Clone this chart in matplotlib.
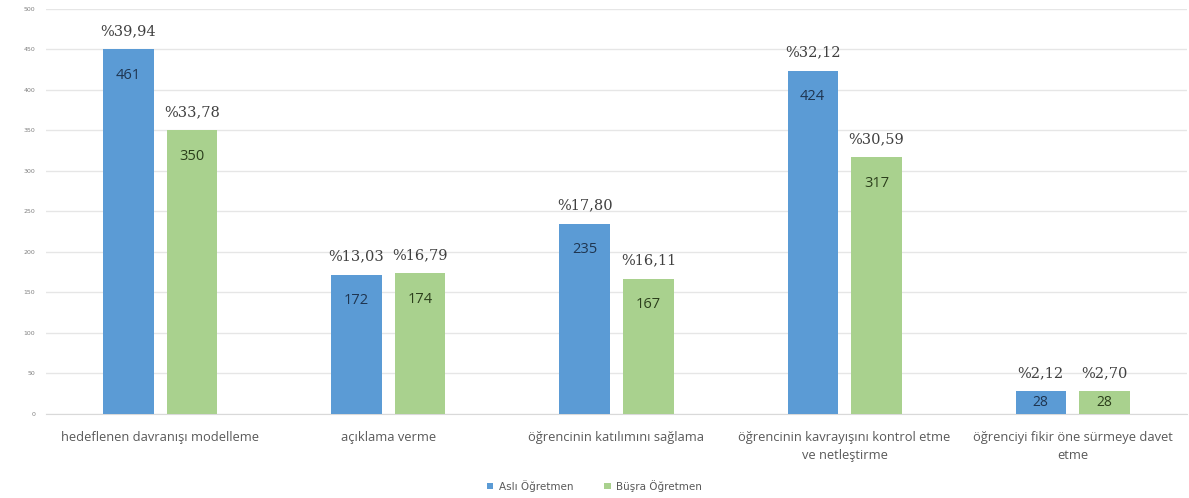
import matplotlib
matplotlib.use("Agg")
import matplotlib.pyplot as plt
import numpy as np

categories = ["hedeflenen davranışı modelleme", "açıklama verme",
              "öğrencinin katılımını sağlama",
              "öğrencinin kavrayışını kontrol etme\nve netleştirme",
              "öğrenciyi fikir öne sürmeye davet\netme"]
asli_values = [450, 172, 235, 424, 28]
busra_values = [350, 174, 167, 317, 28]
asli_counts = ["461", "172", "235", "424", "28"]
busra_counts = ["350", "174", "167", "317", "28"]
asli_pct = ["%39,94", "%13,03", "%17,80", "%32,12", "%2,12"]
busra_pct = ["%33,78", "%16,79", "%16,11", "%30,59", "%2,70"]
series_names = ["Aslı Öğretmen", "Büşra Öğretmen"]
yticks = [0, 50, 100, 150, 200, 250, 300, 350, 400, 450, 500]

blue = "#5B9BD5"
green = "#A9D18E"

fig = plt.figure(figsize=(11.89, 4.98), dpi=100)
ax = fig.add_axes([0.039, 0.169, 0.959, 0.813])

x = np.arange(len(categories))
w = 0.22
off = 0.14
b1 = ax.bar(x - off, asli_values, w, color=blue, zorder=3, label=series_names[0])
b2 = ax.bar(x + off, busra_values, w, color=green, zorder=3, label=series_names[1])

for bars, counts, pcts, tc in [(b1, asli_counts, asli_pct, "#1f3550"),
                               (b2, busra_counts, busra_pct, "#2c3f1c")]:
    for rect, c, p in zip(bars, counts, pcts):
        cx = rect.get_x() + rect.get_width() / 2
        top = rect.get_height()
        ax.annotate(p, (cx, top), xytext=(0, 8), textcoords="offset points",
                    ha="center", va="bottom", fontsize=10.5,
                    family="DejaVu Serif", color="#404040")
        if top > 60:
            ax.annotate(c, (cx, top), xytext=(0, -19), textcoords="offset points",
                        ha="center", va="center", fontsize=10.5,
                        family="Open Sans", color=tc)
        else:
            ax.annotate(c, (cx, top / 2), ha="center", va="center",
                        fontsize=10, family="Open Sans", color=tc)

ax.set_xlim(-0.5, len(categories) - 0.5)
ax.set_ylim(0, 500)
ax.set_yticks(yticks)
ax.set_yticklabels([str(t) for t in yticks], fontsize=4.5, color="#808080")
ax.set_xticks(x)
ax.set_xticklabels(categories, fontsize=9.3, color="#595959", family="Open Sans",
                   linespacing=1.5)
ax.tick_params(axis="both", length=0, pad=8)
ax.tick_params(axis="x", pad=12)
ax.grid(axis="y", color="#e6e6e6", linewidth=1, zorder=0)
for s in ["top", "right", "left"]:
    ax.spines[s].set_visible(False)
ax.spines["bottom"].set_color("#d9d9d9")

leg = fig.legend(handles=[b1, b2], labels=series_names, loc="center",
                 bbox_to_anchor=(0.5, 0.025), ncol=2, frameon=False,
                 fontsize=7.5, handlelength=0.6, handleheight=0.6,
                 columnspacing=3, handletextpad=0.5)
for t in leg.get_texts():
    t.set_color("#595959")

fig.savefig("out.png", dpi=100)
